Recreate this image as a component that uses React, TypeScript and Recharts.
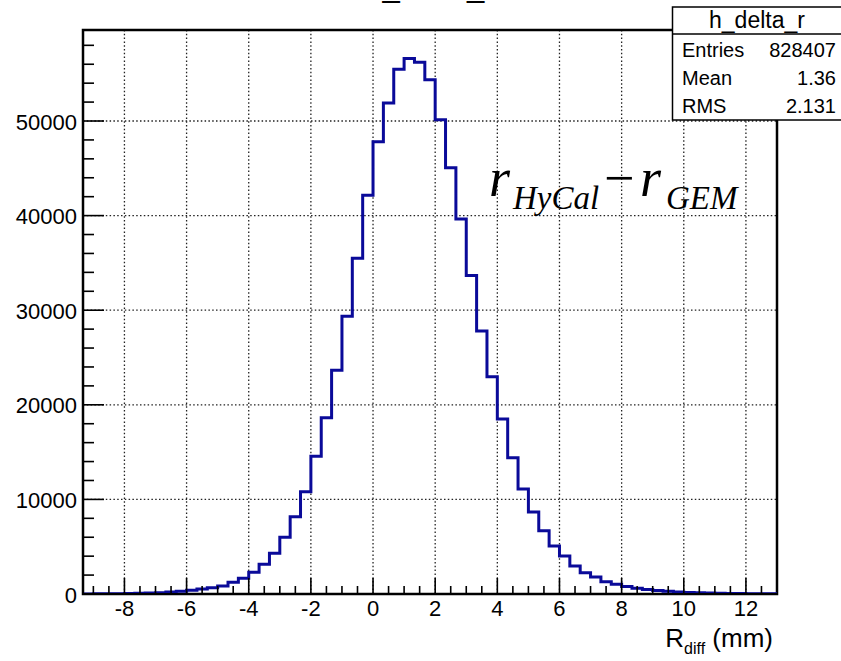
import React from 'react';
import { ComposedChart, Line, XAxis, YAxis, CartesianGrid, ReferenceArea } from 'recharts';

// Histogram h_delta_r : bins of 1/3 mm starting at -28/3 mm
const binLow = -28 / 3;
const binWidth = 1 / 3;
const xMax = 13;
const yMax = 59620;

const counts = [
  12, 18, 25, 35, 50, 70, 100, 140, 200, 280,
  390, 520, 670, 850, 1240, 1660, 2290, 3140, 4300, 5990,
  8170, 10820, 14550, 18640, 23640, 29350, 35480, 42140, 47810, 51900,
  55460, 56620, 56200, 54370, 50140, 45060, 39640, 33680, 27800, 22970,
  18500, 14410, 11100, 8670, 6690, 5070, 4020, 2960, 2250, 1800,
  1300, 1020, 800, 600, 480, 380, 290, 220, 170, 130,
  100, 80, 60, 45, 35, 25, 20,
];

const xMajorTicks = [-8, -6, -4, -2, 0, 2, 4, 6, 8, 10, 12];
const yMajorTicks = [0, 10000, 20000, 30000, 40000, 50000];

const statsTitle = 'h_delta_r';
const statsRows = [
  { label: 'Entries', value: '828407' },
  { label: 'Mean', value: '1.36' },
  { label: 'RMS', value: '2.131' },
];

const xMinorTicks: number[] = [];
for (let v = -9; v <= 12.5 + 1e-9; v += 0.5) xMinorTicks.push(v);
const yMinorTicks: number[] = [];
for (let v = 0; v <= 58000; v += 2000) yMinorTicks.push(v);

const data = counts.map((c, i) => ({ x: binLow + i * binWidth, y: c }));
data.push({ x: xMax, y: counts[counts.length - 1] });

const SANS = 'Liberation Sans, Arial, Helvetica, sans-serif';
const SERIF = 'Liberation Serif, Times New Roman, serif';

const XTick = (props: any) => {
  const { x, y, payload } = props;
  const v = payload.value;
  const major = xMajorTicks.some((m) => Math.abs(m - v) < 1e-6);
  return (
    <g>
      <line x1={x} x2={x} y1={y} y2={y - (major ? 16 : 8)} stroke="#000" strokeWidth={1.6} />
      {major && (
        <text x={x} y={y + 22} textAnchor="middle" fontSize={22} fontFamily={SANS} fill="#000">
          {v}
        </text>
      )}
    </g>
  );
};

const YTick = (props: any) => {
  const { x, y, payload } = props;
  const v = payload.value;
  const major = yMajorTicks.includes(v);
  return (
    <g>
      <line x1={x} x2={x + (major ? 21 : 11)} y1={y} y2={y} stroke="#000" strokeWidth={1.6} />
      {major && (
        <text x={x - 6} y={y + 8.5} textAnchor="end" fontSize={22} fontFamily={SANS} fill="#000">
          {v}
        </text>
      )}
    </g>
  );
};

export default function App() {
  return (
    <div style={{ position: 'absolute', left: 0, top: 0, width: 841, height: 661, background: '#fff' }}>
      <ComposedChart
        width={841}
        height={661}
        data={data}
        margin={{ top: 30, right: 64, bottom: 0, left: 0 }}
      >
        <CartesianGrid
          horizontalValues={yMajorTicks.filter((v) => v > 0)}
          verticalValues={xMajorTicks}
          stroke="#222"
          strokeWidth={1.3}
          strokeDasharray="1.5 2.3"
        />
        <XAxis
          type="number"
          dataKey="x"
          domain={[binLow, xMax]}
          allowDataOverflow
          ticks={xMinorTicks}
          interval={0}
          tickSize={0}
          tickMargin={0}
          height={67}
          tick={<XTick />}
          tickLine={false}
          axisLine={{ stroke: '#000', strokeWidth: 2 }}
        />
        <YAxis
          type="number"
          domain={[0, yMax]}
          allowDataOverflow
          ticks={yMinorTicks}
          interval={0}
          tickSize={0}
          tickMargin={0}
          width={83}
          tick={<YTick />}
          tickLine={false}
          axisLine={{ stroke: '#000', strokeWidth: 2 }}
        />
        <ReferenceArea
          x1={binLow}
          x2={xMax}
          y1={0}
          y2={yMax}
          fill="none"
          fillOpacity={0}
          stroke="#000"
          strokeWidth={2.5}
          ifOverflow="visible"
        />
        <Line
          type="stepAfter"
          dataKey="y"
          stroke="#0a0a99"
          strokeWidth={3}
          dot={false}
          activeDot={false}
          isAnimationActive={false}
        />
      </ComposedChart>
      <svg
        width={841}
        height={661}
        style={{ position: 'absolute', left: 0, top: 0, pointerEvents: 'none' }}
      >
        {/* pad title, mostly above the canvas as in the reference */}
        <text x={430} y={-3} textAnchor="middle" fontSize={31} fontFamily={SANS} fill="#000">
          {statsTitle}
        </text>
        {/* stats box */}
        <rect x={672.5} y={7} width={175} height={113} fill="#fff" stroke="#000" strokeWidth={1.5} />
        <line x1={672.5} x2={841} y1={34} y2={34} stroke="#000" strokeWidth={1.5} />
        <text x={757} y={28} textAnchor="middle" fontSize={23} fontFamily={SANS} fill="#000">
          {statsTitle}
        </text>
        {statsRows.map((r, i) => (
          <g key={r.label}>
            <text x={682} y={57 + i * 28} fontSize={20} fontFamily={SANS} fill="#000">
              {r.label}
            </text>
            <text x={836} y={57 + i * 28} textAnchor="end" fontSize={20} fontFamily={SANS} fill="#000">
              {r.value}
            </text>
          </g>
        ))}
        {/* formula */}
        <text fontFamily={SERIF} fontStyle="italic" fill="#000">
          <tspan x={489} y={196} fontSize={54}>r</tspan>
          <tspan x={513} y={209} fontSize={33}>HyCal</tspan>
          <tspan x={604} y={196} fontSize={54} fontStyle="normal">−</tspan>
          <tspan x={640} y={196} fontSize={54}>r</tspan>
          <tspan x={666} y={209} fontSize={33}>GEM</tspan>
        </text>
        {/* x axis title */}
        <text x={773} y={647} textAnchor="end" fontSize={26} fontFamily={SANS} fill="#000">
          R<tspan fontSize={16} dy={7}>diff</tspan>
          <tspan dy={-7}> (mm)</tspan>
        </text>
      </svg>
    </div>
  );
}
